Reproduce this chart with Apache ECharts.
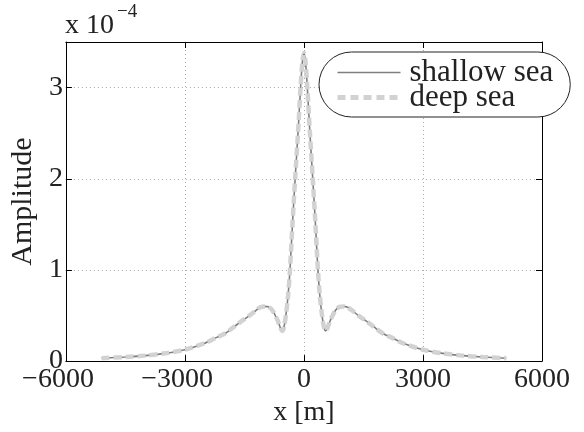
<!DOCTYPE html>
<html>
<head>
<meta charset="utf-8">
<script src="https://cdn.jsdelivr.net/npm/echarts@6/dist/echarts.min.js"></script>
<style>html,body{margin:0;padding:0;background:#fff}#c{width:584px;height:432px}</style>
</head>
<body>
<div id="c"></div>
<script>
// x positions [m]
const xs = [-5100,-4500,-4000,-3500,-3000,-2500,-2200,-2000,-1750,-1600,-1400,-1200,-1100,-1000,-900,-800,-700,-640,-590,-540,-500,-450,-400,-352,-290,-222,-150,-85,-40,0,40,85,150,222,290,352,400,450,500,540,590,640,700,800,900,1000,1100,1200,1400,1600,1750,2000,2200,2500,3000,3500,4000,4500,5100];
// amplitudes in units of 1e-4
const shallowSea = [0.032,0.045,0.06,0.085,0.125,0.196,0.26,0.30,0.38,0.43,0.49,0.56,0.59,0.60,0.595,0.56,0.48,0.42,0.36,0.33,0.38,0.52,0.72,1.0,1.5,2.0,2.5,3.0,3.28,3.38,3.28,3.0,2.5,2.0,1.5,1.0,0.72,0.52,0.38,0.33,0.36,0.42,0.48,0.56,0.595,0.60,0.59,0.56,0.49,0.43,0.38,0.30,0.26,0.196,0.125,0.085,0.06,0.045,0.032];
const deepSea = [0.032,0.045,0.06,0.085,0.125,0.196,0.26,0.30,0.38,0.43,0.49,0.56,0.59,0.60,0.595,0.56,0.48,0.42,0.36,0.33,0.38,0.52,0.72,1.0,1.5,2.0,2.5,3.0,3.28,3.38,3.28,3.0,2.5,2.0,1.5,1.0,0.72,0.52,0.38,0.33,0.36,0.42,0.48,0.56,0.595,0.60,0.59,0.56,0.49,0.43,0.38,0.30,0.26,0.196,0.125,0.085,0.06,0.045,0.032];
const seriesNames = ['shallow sea', 'deep sea'];
const xTicks = [-6000, -3000, 0, 3000, 6000];
const yTicks = [0, 1, 2, 3];

const FONT = "'Liberation Serif', 'Times New Roman', serif";
const TXT = '#222';
const chart = echarts.init(document.getElementById('c'), null, {renderer: 'canvas'});

function pairs(ys) { return xs.map((x, i) => [x, ys[i]]); }

const gridLine = {show: true, lineStyle: {color: '#aaa', width: 1, type: [1, 3]}};

chart.setOption({
  animation: false,
  backgroundColor: '#fff',
  grid: {left: 65, right: 42, top: 42, bottom: 63, show: false},
  graphic: [
    {type: 'text', left: 65, top: 12, style: {text: 'x 10', font: '28px ' + FONT, fill: TXT}},
    {type: 'text', left: 117, top: 3, style: {text: '\u22124', font: '19px ' + FONT, fill: TXT}}
  ],
  legend: {
    orient: 'vertical',
    left: 319, top: 52,
    padding: [5, 17, 4, 16],
    itemWidth: 63, itemHeight: 14, itemGap: -6,
    borderColor: '#222', borderWidth: 1, borderRadius: 33,
    backgroundColor: '#fff',
    itemStyle: {opacity: 0},
    textStyle: {fontFamily: FONT, fontSize: 31, color: TXT, padding: [0, 0, 0, 4]},
    data: [
      {name: seriesNames[0], lineStyle: {width: 1.6, color: '#7f7f7f', type: 'solid'}},
      {name: seriesNames[1], lineStyle: {width: 5, color: '#d2d2d2', type: [8, 5]}}
    ]
  },
  xAxis: [{
    type: 'value', min: xTicks[0], max: xTicks[xTicks.length - 1], interval: 3000,
    name: 'x [m]', nameLocation: 'middle', nameGap: 31,
    nameTextStyle: {fontFamily: FONT, fontSize: 28, color: TXT},
    axisLine: {show: true, onZero: false, lineStyle: {color: '#000', width: 1}},
    axisTick: {show: true, inside: true, length: 6, lineStyle: {color: '#000'}},
    axisLabel: {
      margin: 5, fontFamily: FONT, fontSize: 28, color: TXT,
      formatter: v => v < 0 ? '{m|\u2212}' + Math.abs(v) + '{h|\u2212}' : String(v),
      rich: {m: {fontFamily: FONT, fontSize: 28, color: TXT}, h: {fontFamily: FONT, fontSize: 28, color: 'rgba(0,0,0,0)'}}
    },
    splitLine: gridLine
  }, {
    type: 'value', position: 'top', min: xTicks[0], max: xTicks[xTicks.length - 1], interval: 3000,
    axisLine: {show: true, onZero: false, lineStyle: {color: '#000', width: 1}},
    axisTick: {show: true, inside: true, length: 6, lineStyle: {color: '#000'}},
    axisLabel: {show: false}, splitLine: {show: false}
  }],
  yAxis: [{
    type: 'value', min: 0, max: 3.5, interval: 1,
    name: 'Amplitude', nameLocation: 'middle', nameGap: 27,
    nameTextStyle: {fontFamily: FONT, fontSize: 30, color: TXT},
    axisLine: {show: true, onZero: false, lineStyle: {color: '#000', width: 1}},
    axisTick: {show: true, inside: true, length: 6, lineStyle: {color: '#000'}},
    axisLabel: {
      margin: 3, fontFamily: FONT, fontSize: 28, color: TXT,
      formatter: v => yTicks.indexOf(Math.round(v * 1000) / 1000) >= 0 ? String(Math.round(v)) : ''
    },
    splitLine: gridLine
  }, {
    type: 'value', position: 'right', min: 0, max: 3.5, interval: 1,
    axisLine: {show: true, onZero: false, lineStyle: {color: '#000', width: 1}},
    axisTick: {show: true, inside: true, length: 6, lineStyle: {color: '#000'}},
    axisLabel: {show: false}, splitLine: {show: false}
  }],
  series: [{
    name: seriesNames[0], type: 'line', data: pairs(shallowSea), smooth: 0.3,
    showSymbol: false, symbol: 'none',
    lineStyle: {color: '#7f7f7f', width: 1.6},
    itemStyle: {color: '#7f7f7f'}
  }, {
    name: seriesNames[1], type: 'line', data: pairs(deepSea), smooth: 0.3,
    showSymbol: false, symbol: 'none',
    lineStyle: {color: '#d2d2d2', width: 4.5, type: [8, 4]},
    itemStyle: {color: '#d2d2d2'}
  }]
});
</script>
</body>
</html>
